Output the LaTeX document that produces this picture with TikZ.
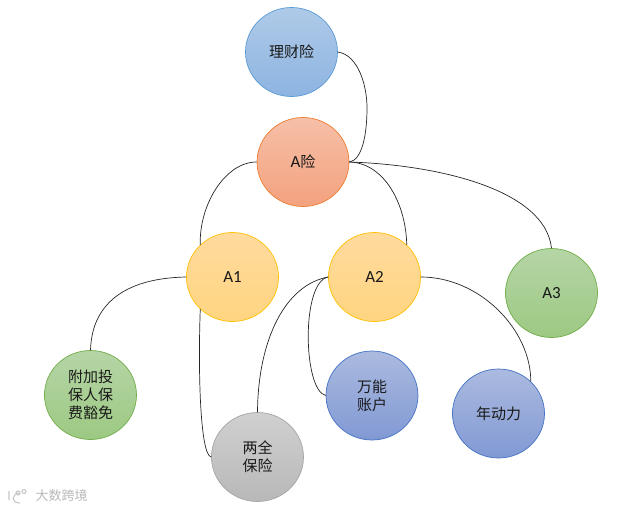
\documentclass[tikz,border=0pt]{standalone}
\usepackage{fontspec}
\setmainfont{Carlito}
\newfontfamily\cjk{Noto Sans CJK SC}
\usetikzlibrary{shapes.geometric}
\definecolor{blueT}{HTML}{AFCAE8}\definecolor{blueB}{HTML}{8DB4E1}\definecolor{blueL}{HTML}{5B9BD5}
\definecolor{orT}{HTML}{F6BFA8}\definecolor{orB}{HTML}{F4A27E}\definecolor{orL}{HTML}{ED7D31}
\definecolor{yeT}{HTML}{FFDA9E}\definecolor{yeB}{HTML}{FFD580}\definecolor{yeL}{HTML}{FFC000}
\definecolor{grT}{HTML}{B5D5A6}\definecolor{grB}{HTML}{9DC983}\definecolor{grL}{HTML}{70AD47}
\definecolor{inT}{HTML}{ABBADF}\definecolor{inB}{HTML}{8199D4}\definecolor{inL}{HTML}{4472C4}
\definecolor{gyT}{HTML}{D0D0D0}\definecolor{gyB}{HTML}{B8B8B8}\definecolor{gyL}{HTML}{A5A5A5}
\newcommand{\lat}[1]{{\rmfamily\fontsize{17}{18}\selectfont #1}}
\tikzset{
  bubble/.style={ellipse,inner sep=0pt,minimum width=92pt,minimum height=89pt,align=center,
    font=\fontsize{15}{18}\selectfont\cjk,text=black!90,line width=0.7pt},
  bblue/.style={bubble,draw=blueL,top color=blueT,bottom color=blueB},
  borange/.style={bubble,draw=orL,top color=orT,bottom color=orB},
  byellow/.style={bubble,draw=yeL,top color=yeT,bottom color=yeB},
  bgreen/.style={bubble,draw=grL,top color=grT,bottom color=grB},
  bindigo/.style={bubble,draw=inL,top color=inT,bottom color=inB},
  bgrey/.style={bubble,draw=gyL,top color=gyT,bottom color=gyB},
  link/.style={draw=black!85,line width=0.7pt},
  mark text/.style={font=\fontsize{13}{13}\selectfont\cjk,text=black!28},
  mark line/.style={draw=black!22,line width=1.1pt}
}
\begin{document}
\begin{tikzpicture}[x=1pt,y=-1pt]
\useasboundingbox (0,0) rectangle (627,509);
\node[bblue] (licai) at (291.5,52) {理财险};
\node[borange] (ax) at (303,162) {\lat{A}险};
\node[byellow] (a1) at (232.5,277) {\lat{A1}};
\node[byellow] (a2) at (374.5,277) {\lat{A2}};
\node[bgreen] (a3) at (551.5,293) {\lat{A3}};
\node[bgreen] (fj) at (90.5,395) {附加投\\保人保\\费豁免};
\node[bgrey] (lq) at (257.5,457) {两全\\保险};
\node[bindigo] (wn) at (372,395.5) {万能\\账户};
\node[bindigo] (nd) at (498.5,413.5) {年动力};
\node[mark text,anchor=west] (wm) at (32,496) {大数跨境};
\path[mark line] (9,491) -- (9,500) (19,493) .. controls (11,495) and (11,503) .. (20,503);
\path[mark line] (18,493) circle (2pt) (24,491.5) circle (2pt);
\path[link] (licai.east) .. controls (358,55) and (367,85) .. (367,108)
  .. controls (367,135) and (362,160) .. (ax.east);
\path[link] (ax.west) .. controls (225,162) and (199,205) .. (a1.135);
\path[link] (ax.east) .. controls (385,163) and (406,205) .. (a2.45);
\path[link] (ax.east) .. controls (440,165) and (545,190) .. (a3.north);
\path[link] (a1.west) .. controls (130,278) and (92,300) .. (fj.north);
\path[link] (a1.225) .. controls (198,370) and (200,455) .. (lq.west);
\path[link] (a2.west) .. controls (285,285) and (258,340) .. (lq.north);
\path[link] (a2.west) .. controls (301,282) and (303,390) .. (wn.west);
\path[link] (a2.east) .. controls (480,277) and (531,330) .. (nd.45);
\end{tikzpicture}
\end{document}
